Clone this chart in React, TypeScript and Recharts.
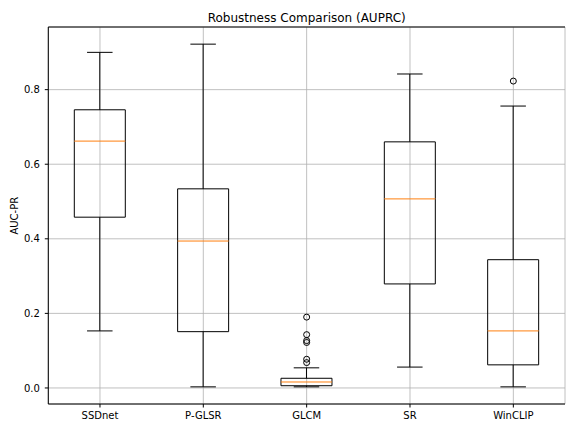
import React from 'react';
import { ComposedChart, Bar, Line, XAxis, YAxis, CartesianGrid, ReferenceLine } from 'recharts';

const categories = ['SSDnet', 'P-GLSR', 'GLCM', 'SR', 'WinCLIP'];
const whiskerLow = [0.153, 0.003, 0.003, 0.056, 0.003];
const q1 = [0.458, 0.151, 0.006, 0.279, 0.062];
const medians = [0.662, 0.394, 0.016, 0.507, 0.153];
const q3 = [0.746, 0.534, 0.026, 0.66, 0.344];
const whiskerHigh = [0.9, 0.922, 0.054, 0.842, 0.756];
const outliers: number[][] = [[], [], [0.19, 0.143, 0.127, 0.122, 0.077, 0.068], [], [0.823]];
const yTicks = [0, 0.2, 0.4, 0.6, 0.8];
const yDomain = [-0.043, 0.968];

const MAX_OUT = 6;
const data = categories.map((name, i) => {
  const row: any = {
    name,
    base: whiskerLow[i],
    lowWhisker: q1[i] - whiskerLow[i],
    lowBox: medians[i] - q1[i],
    highBox: q3[i] - medians[i],
    highWhisker: whiskerHigh[i] - q3[i],
  };
  for (let k = 0; k < MAX_OUT; k++) {
    row['o' + k] = outliers[i][k] !== undefined ? outliers[i][k] : null;
  }
  return row;
});

const FONT = 'DejaVu Sans, sans-serif';

const BaseShape = (p: any) => {
  const { x, y, width } = p;
  const cx = x + width / 2;
  return <line x1={cx - width / 4} x2={cx + width / 4} y1={y} y2={y} stroke="#000" strokeWidth={1} />;
};
const LowWhiskerShape = (p: any) => {
  const { x, y, width, height } = p;
  const cx = x + width / 2;
  return <line x1={cx} x2={cx} y1={y} y2={y + height} stroke="#000" strokeWidth={1} />;
};
const LowBoxShape = (p: any) => {
  const { x, y, width, height } = p;
  return (
    <g>
      <line x1={x} x2={x} y1={y} y2={y + height} stroke="#000" strokeWidth={1} />
      <line x1={x + width} x2={x + width} y1={y} y2={y + height} stroke="#000" strokeWidth={1} />
      <line x1={x} x2={x + width} y1={y + height} y2={y + height} stroke="#000" strokeWidth={1} />
    </g>
  );
};
const HighBoxShape = (p: any) => {
  const { x, y, width, height } = p;
  return (
    <g>
      <line x1={x} x2={x} y1={y} y2={y + height} stroke="#000" strokeWidth={1} />
      <line x1={x + width} x2={x + width} y1={y} y2={y + height} stroke="#000" strokeWidth={1} />
      <line x1={x} x2={x + width} y1={y} y2={y} stroke="#000" strokeWidth={1} />
      <line x1={x} x2={x + width} y1={y + height} y2={y + height} stroke="#ff7f0e" strokeWidth={1} />
    </g>
  );
};
const HighWhiskerShape = (p: any) => {
  const { x, y, width, height } = p;
  const cx = x + width / 2;
  return (
    <g>
      <line x1={cx} x2={cx} y1={y} y2={y + height} stroke="#000" strokeWidth={1} />
      <line x1={cx - width / 4} x2={cx + width / 4} y1={y} y2={y} stroke="#000" strokeWidth={1} />
    </g>
  );
};

const OutlierDot = (p: any) => {
  const { cx, cy, value, index, dataKey } = p;
  if (value === null || value === undefined || cy == null || isNaN(cy)) {
    return <g key={`${dataKey}-${index}`} />;
  }
  return <circle key={`${dataKey}-${index}`} cx={cx} cy={cy} r={3} fill="none" stroke="#000" strokeWidth={1} />;
};

export default function App() {
  return (
    <div style={{ position: 'absolute', left: 0, top: 0, width: 576, height: 432, background: '#fff' }}>
      <ComposedChart
        width={576}
        height={432}
        data={data}
        margin={{ top: 27, right: 11, left: 0, bottom: 0 }}
        style={{ fontFamily: FONT }}
      >
        <CartesianGrid stroke="#b0b0b0" strokeWidth={0.8} />
        <XAxis
          dataKey="name"
          type="category"
          height={28}
          tickSize={3.5}
          tickMargin={4}
          stroke="#000"
          tick={{ fill: '#000', fontSize: 10, fontFamily: FONT }}
          tickLine={{ stroke: '#000' }}
          axisLine={{ stroke: '#000' }}
          interval={0}
        />
        <XAxis xAxisId="top" dataKey="name" orientation="top" height={0} tick={false} tickLine={false} axisLine={{ stroke: '#000' }} />
        <YAxis
          width={48.3}
          domain={yDomain}
          ticks={yTicks}
          type="number"
          allowDataOverflow
          tickSize={3.5}
          tickMargin={5}
          stroke="#000"
          tickFormatter={(v: number) => v.toFixed(1)}
          tick={{ fill: '#000', fontSize: 10, fontFamily: FONT }}
          label={{
            content: () => (
              <text x={14.5} y={215.7} transform="rotate(-90 14.5 215.7)" textAnchor="middle" dominantBaseline="central" fontSize={10} fontFamily={FONT} fill="#000">
                AUC-PR
              </text>
            ),
          }}
        />
        <YAxis yAxisId="right" orientation="right" width={0} domain={yDomain} tick={false} tickLine={false} axisLine={{ stroke: '#000' }} />
        <ReferenceLine y={yDomain[1]} stroke="#000" strokeWidth={1} ifOverflow="extendDomain" />
        <Bar dataKey="base" stackId="a" barSize={51} shape={BaseShape} isAnimationActive={false} />
        <Bar dataKey="lowWhisker" stackId="a" barSize={51} shape={LowWhiskerShape} isAnimationActive={false} />
        <Bar dataKey="lowBox" stackId="a" barSize={51} shape={LowBoxShape} isAnimationActive={false} />
        <Bar dataKey="highBox" stackId="a" barSize={51} shape={HighBoxShape} isAnimationActive={false} />
        <Bar dataKey="highWhisker" stackId="a" barSize={51} shape={HighWhiskerShape} isAnimationActive={false} />
        {Array.from({ length: MAX_OUT }, (_, k) => (
          <Line
            key={'o' + k}
            dataKey={'o' + k}
            stroke="none"
            dot={OutlierDot}
            activeDot={false}
            connectNulls={false}
            isAnimationActive={false}
          />
        ))}
      </ComposedChart>
      <svg width={576} height={30} style={{ position: 'absolute', left: 0, top: 0 }}>
        <text x={306.7} y={22} textAnchor="middle" fontSize={12} fontFamily={FONT} fill="#000">
          Robustness Comparison (AUPRC)
        </text>
      </svg>
    </div>
  );
}
